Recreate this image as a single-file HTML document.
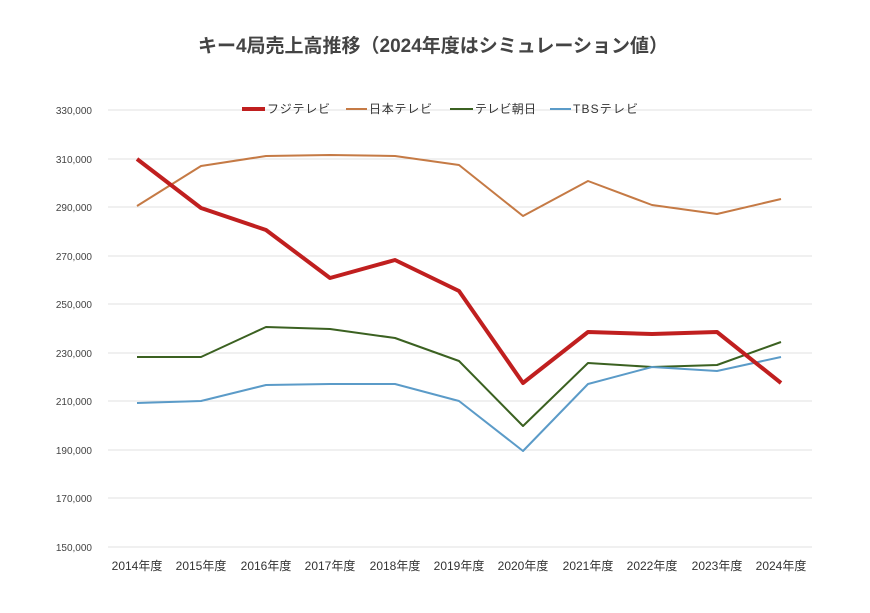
<!DOCTYPE html><html><head><meta charset="utf-8"><style>body{margin:0;background:#fff}svg text{font-family:"Liberation Sans","Noto Sans CJK JP",sans-serif}</style></head><body>
<svg width="870" height="608" xmlns="http://www.w3.org/2000/svg">
<rect width="870" height="608" fill="#fff"/>
<text x="433" y="52" text-anchor="middle" font-size="19" font-weight="bold" fill="#444">キー4局売上高推移（2024年度はシミュレーション値）</text>
<g stroke="#e0e0e0" stroke-width="1">
<line x1="108" x2="812" y1="110" y2="110"/><line x1="108" x2="812" y1="159" y2="159"/><line x1="108" x2="812" y1="207" y2="207"/><line x1="108" x2="812" y1="256" y2="256"/><line x1="108" x2="812" y1="304" y2="304"/><line x1="108" x2="812" y1="353" y2="353"/><line x1="108" x2="812" y1="401" y2="401"/><line x1="108" x2="812" y1="450" y2="450"/><line x1="108" x2="812" y1="498" y2="498"/><line x1="108" x2="812" y1="547" y2="547"/>
</g>
<g font-size="10" fill="#444" text-anchor="end">
<text x="92" y="114">330,000</text><text x="92" y="163">310,000</text><text x="92" y="211">290,000</text><text x="92" y="260">270,000</text><text x="92" y="308">250,000</text><text x="92" y="357">230,000</text><text x="92" y="405">210,000</text><text x="92" y="454">190,000</text><text x="92" y="502">170,000</text><text x="92" y="551">150,000</text>
</g>
<g font-size="12" fill="#333" text-anchor="middle">
<text x="137" y="570">2014年度</text><text x="201" y="570">2015年度</text><text x="266" y="570">2016年度</text><text x="330" y="570">2017年度</text><text x="395" y="570">2018年度</text><text x="459" y="570">2019年度</text><text x="523" y="570">2020年度</text><text x="588" y="570">2021年度</text><text x="652" y="570">2022年度</text><text x="717" y="570">2023年度</text><text x="781" y="570">2024年度</text>
</g>
<g fill="none" stroke-linejoin="round">
<polyline stroke="#c57a45" stroke-width="2" points="137,206 201,166 266,156 330,155 395,156 459,165 523,216 588,181 652,205 717,214 781,199"/>
<polyline stroke="#3b6121" stroke-width="2" points="137,357 201,357 266,327 330,329 395,338 459,361 523,426 588,363 652,367 717,365 781,342"/>
<polyline stroke="#5b9bc8" stroke-width="2" points="137,403 201,401 266,385 330,384 395,384 459,401 523,451 588,384 652,367 717,371 781,357"/>
<polyline stroke="#c01f1f" stroke-width="4" points="137,159 201,208 266,230 330,278 395,260 459,291 523,383 588,332 652,334 717,332 781,383"/>
</g>
<g font-size="12" fill="#333">
<line x1="242" x2="265" y1="109" y2="109" stroke="#c01f1f" stroke-width="4"/><text x="267" y="113" textLength="63">フジテレビ</text>
<line x1="346" x2="367" y1="109" y2="109" stroke="#c57a45" stroke-width="2"/><text x="369" y="113" textLength="63">日本テレビ</text>
<line x1="450" x2="473" y1="109" y2="109" stroke="#3b6121" stroke-width="2"/><text x="475" y="113" textLength="61">テレビ朝日</text>
<line x1="550" x2="571" y1="109" y2="109" stroke="#5b9bc8" stroke-width="2"/><text x="573" y="113" textLength="65">TBSテレビ</text>
</g>
</svg></body></html>
